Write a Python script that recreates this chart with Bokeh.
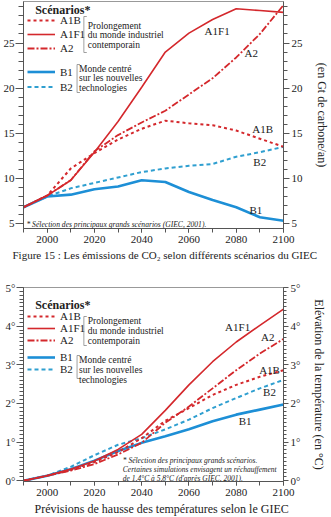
from bokeh.plotting import figure
from bokeh.models import (ColumnDataSource, Legend, LegendItem, Label, LinearAxis,
                          SingleIntervalTicker, PrintfTickFormatter, Range1d)
from bokeh.layouts import column
from bokeh.embed import file_html
from bokeh.resources import INLINE

# ---------------- data ----------------
years = [1990, 2000, 2010, 2020, 2030, 2040, 2050, 2060, 2070, 2080, 2090, 2100]

co2_A1B  = [6.8, 8.1, 11.1, 12.8, 14.3, 15.5, 16.4, 16.1, 15.9, 15.3, 14.4, 13.5]
co2_A1F1 = [6.8, 8.1, 9.8, 12.9, 16.3, 20.1, 24.0, 26.1, 27.6, 28.8, 28.6, 28.4]
co2_A2   = [6.8, 8.1, 9.8, 13.0, 14.8, 16.2, 17.5, 19.3, 21.1, 23.4, 26.0, 29.2]
co2_B1   = [6.8, 8.0, 8.2, 8.8, 9.1, 9.8, 9.6, 8.5, 7.6, 6.8, 5.7, 5.3]
co2_B2   = [6.8, 8.0, 8.9, 9.5, 10.1, 10.7, 11.1, 11.4, 11.6, 12.4, 12.9, 13.5]

temp_A1B  = [0, 0.13, 0.28, 0.48, 0.74, 1.10, 1.55, 1.88, 2.22, 2.48, 2.69, 2.86]
temp_A1F1 = [0, 0.13, 0.30, 0.51, 0.81, 1.20, 1.82, 2.48, 3.08, 3.59, 4.02, 4.44]
temp_A2   = [0, 0.13, 0.26, 0.43, 0.68, 0.98, 1.50, 1.92, 2.39, 2.86, 3.29, 3.67]
temp_B1   = [0, 0.13, 0.30, 0.52, 0.77, 0.98, 1.15, 1.33, 1.54, 1.71, 1.84, 1.97]
temp_B2   = [0, 0.13, 0.36, 0.66, 0.93, 1.10, 1.33, 1.58, 1.88, 2.14, 2.39, 2.61]

scenarios = ["A1B", "A1F1", "A2", "B1", "B2"]
group_a_text = "Prolongement\ndu monde industriel\ncontemporain"
group_b_text = "Monde centré\nsur les nouvelles\ntechnologies"
legend_title = "Scénarios*"
caption_top = "Figure 15 : Les émissions de CO₂ selon différents scénarios du GIEC"
caption_bottom = "Prévisions de hausse des températures  selon le GIEC"
axis_top = "(en Gt de carbone/an)"
axis_bottom = "Elévation de la température (en °C)"
note_top = "* Sélection des principaux grands scénarios (GIEC, 2001)."
note_bottom = ("* Sélection des principaux grands scénarios.\n"
               "Certaines simulations envisagent un réchauffement\n"
               "de 1,4°C à 5,8°C (d'après GIEC, 2001).")

# ---------------- styles ----------------
SERIF = "Liberation Serif"
RED = "#d4282c"
BLUE = "#1d8fd6"
CYAN = "#2f9fd0"
AXC = "#555555"
styles = {
    "A1B":  dict(line_color=RED, line_dash="3 3", line_width=2.0),
    "A1F1": dict(line_color=RED, line_width=1.6),
    "A2":   dict(line_color=RED, line_dash="7 2 2 2", line_width=1.8),
    "B1":   dict(line_color=BLUE, line_width=2.6),
    "B2":   dict(line_color=CYAN, line_dash="4 3", line_width=2.0),
}

X0, X1 = 1990, 2100
LEFT, RIGHT = 21, 288          # frame edges (px)


def px_x(px):
    return X0 + (px - LEFT) * (X1 - X0) / (RIGHT - LEFT)


def style_axis(ax, tick_out, minor_out):
    ax.axis_line_color = AXC
    ax.major_tick_line_color = AXC
    ax.minor_tick_line_color = AXC
    ax.major_tick_in = 0
    ax.minor_tick_in = 0
    ax.major_tick_out = tick_out
    ax.minor_tick_out = minor_out
    ax.major_label_text_font = SERIF
    ax.major_label_text_font_size = "11px"
    ax.major_label_text_color = "#222222"
    ax.major_label_standoff = 1
    ax.axis_label_text_font = SERIF
    ax.axis_label_text_font_size = "12px"
    ax.axis_label_text_font_style = "normal"
    ax.axis_label_text_color = "#222222"


def txt(p, x, y, text, size="11px", style="normal", baseline="middle", lh=1.2):
    p.add_layout(Label(x=x, y=y, text=text, text_font=SERIF, text_font_size=size,
                       text_font_style=style, text_baseline=baseline, text_align="left",
                       text_color="#222222", text_line_height=lh))


def build(data, yr, ytick, yminor, fmt, caption, cap_size, cap_offset, axis_label,
          height, top, bottom, y_of, leg, groups, note, note_text, inline,
          tick_out, minor_out):
    p = figure(width=331, height=height, x_range=Range1d(X0, X1), y_range=Range1d(*yr),
               output_backend="svg", toolbar_location=None, title=caption,
               title_location="below", min_border_left=LEFT, min_border_right=331 - RIGHT,
               min_border_top=top, min_border_bottom=bottom)
    p.xgrid.visible = False
    p.ygrid.visible = False
    p.outline_line_color = "#999999"
    p.title.text_font = SERIF
    p.title.text_font_size = cap_size
    p.title.text_font_style = "normal"
    p.title.text_color = "#222222"
    p.title.align = "left"
    p.title.offset = cap_offset
    p.title.standoff = 2

    p.xaxis.ticker = SingleIntervalTicker(interval=20, num_minor_ticks=2)
    p.yaxis.ticker = SingleIntervalTicker(interval=ytick, num_minor_ticks=yminor)
    style_axis(p.xaxis[0], 4, 4)
    style_axis(p.yaxis[0], tick_out, minor_out)
    p.xaxis.major_label_standoff = 3
    if fmt:
        p.yaxis.formatter = PrintfTickFormatter(format=fmt)
    ra = LinearAxis(ticker=SingleIntervalTicker(interval=ytick, num_minor_ticks=yminor),
                    axis_label=axis_label)
    if fmt:
        ra.formatter = PrintfTickFormatter(format=fmt)
    style_axis(ra, tick_out - 2, minor_out - 1)
    ra.major_label_standoff = 2
    ra.axis_label_standoff = 9
    p.add_layout(ra, "right")

    src = ColumnDataSource(dict(year=years, **{s: data[s] for s in scenarios}))
    rend = {}
    for s in ["B2", "B1", "A1B", "A2", "A1F1"]:
        rend[s] = p.line("year", s, source=src, **styles[s])

    # legend (two groups)
    (la_loc, la_h), (lb_loc, lb_h) = leg
    for names, loc, h in ((["A1B", "A1F1", "A2"], la_loc, la_h), (["B1", "B2"], lb_loc, lb_h)):
        lg = Legend(items=[LegendItem(label=n, renderers=[rend[n]]) for n in names],
                    location=loc, orientation="vertical", padding=0, margin=0, spacing=0,
                    glyph_width=28, glyph_height=h, label_height=h, label_standoff=5,
                    label_text_font=SERIF, label_text_font_size="11px",
                    label_text_color="#222222", background_fill_alpha=0,
                    border_line_alpha=0)
        p.add_layout(lg)

    (ttl_y, ga, gb, gsize, glh) = groups
    txt(p, px_x(33), y_of(ttl_y), legend_title, size="12px", style="bold", baseline="top")
    for (tx, ty, bx, b0, b1), gtext in ((ga, group_a_text), (gb, group_b_text)):
        txt(p, px_x(tx), y_of(ty), gtext, size=gsize, baseline="top", lh=glh)
        p.line([px_x(bx + 3), px_x(bx), px_x(bx), px_x(bx + 3)],
               [y_of(b0), y_of(b0), y_of(b1), y_of(b1)], line_color="#888888", line_width=0.8)

    nx, ny, nsize, nlh = note
    txt(p, px_x(nx), y_of(ny), note_text, size=nsize, style="italic", baseline="top", lh=nlh)
    for s, (ix, iy) in inline.items():
        txt(p, px_x(ix), y_of(iy), s, size="11px")
    return p


# -------- top chart --------
T_TOP, T_BOT = 1, 228
T_YR = (4.45, 29.6)


def t_y(py):
    return T_YR[0] + (T_BOT - py) * (T_YR[1] - T_YR[0]) / (T_BOT - T_TOP)


p1 = build(dict(A1B=co2_A1B, A1F1=co2_A1F1, A2=co2_A2, B1=co2_B1, B2=co2_B2),
           T_YR, 5, 5, None, caption_top, "11px", -11, axis_top,
           262, T_TOP, 262 - T_BOT, t_y,
           (((4, 173), 14), ((4, 134), 15)),
           (2, (87, 20, 83, 16, 52), (78, 63, 76, 64, 92), "9.5px", 0.95),
           (24, 219.5, "7.6px", 1.0), note_top,
           {"A1F1": (207, 30), "A2": (248, 52), "A1B": (256, 128.5),
            "B2": (257, 161), "B1": (253, 209)},
           8, 5)

# -------- bottom chart --------
B_ORG = 262
B_TOP, B_BOT = 287, 481
B_YR = (-0.02, 5.0)


def b_y(py):
    return B_YR[0] + (B_BOT - py) * (B_YR[1] - B_YR[0]) / (B_BOT - B_TOP)


p2 = build(dict(A1B=temp_A1B, A1F1=temp_A1F1, A2=temp_A2, B1=temp_B1, B2=temp_B2),
           B_YR, 1, 10, "%d°", caption_bottom, "12px", 11, axis_bottom,
           517 - B_ORG, B_TOP - B_ORG, 517 - B_BOT, b_y,
           (((4, 135), 10), ((4, 106), 10)),
           (297, (87, 315.5, 83, 316, 345), (78, 354.5, 76, 355, 378), "9.5px", 1.0),
           (123, 455.5, "7.5px", 0.98), note_bottom,
           {"A1F1": (228, 326.5), "A2": (265, 336.5), "A1B": (263, 369),
            "B2": (267, 391), "B1": (242, 420)},
           7, 4)

layout = column(p1, p2, spacing=0)
open("out.html", "w").write(file_html(layout, INLINE))
